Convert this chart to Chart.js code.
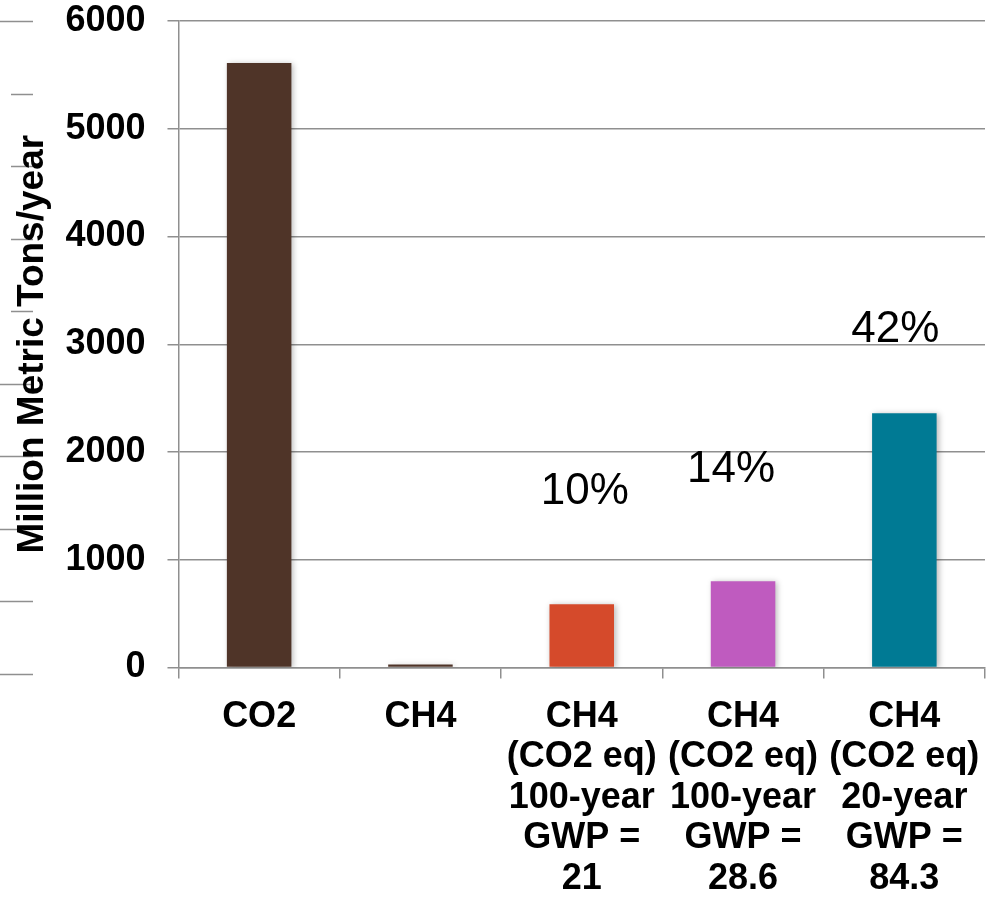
<!DOCTYPE html>
<html>
<head>
<meta charset="utf-8">
<script src="https://cdn.jsdelivr.net/npm/chart.js@4.4.1/dist/chart.umd.min.js"></script>
<style>
  html, body { margin: 0; padding: 0; background: #ffffff; }
  #wrap { width: 990px; height: 899px; position: relative; }
</style>
</head>
<body>
<div id="wrap"><canvas id="chart"></canvas></div>
<script>
// Annual emissions, million metric tons per year
const categories = [
  ['CO2'],
  ['CH4'],
  ['CH4', '(CO2 eq)', '100-year', 'GWP =', '21'],
  ['CH4', '(CO2 eq)', '100-year', 'GWP =', '28.6'],
  ['CH4', '(CO2 eq)', '20-year', 'GWP =', '84.3']
];
const emissions = [5610, 28, 588, 801, 2360];
const barColors = ['#4F3428', '#4F3428', '#D54A2B', '#BF5BBF', '#007A94'];
const yTicks = [0, 1000, 2000, 3000, 4000, 5000, 6000];

// CH4 equivalents expressed as a share of CO2 (first bar)
const shareLabels = emissions.map((v, i) => i < 2 ? '' : Math.round(v / emissions[0] * 100) + '%');

const GRID = '#8f8f8f';
const FONT = '"Liberation Sans", Arial, sans-serif';

// soft drop shadow behind the bars
const barShadow = {
  id: 'barShadow',
  beforeDatasetsDraw(chart) {
    const ctx = chart.ctx;
    ctx.save();
    ctx.shadowColor = 'rgba(0,0,0,0.28)';
    ctx.shadowBlur = 6;
    ctx.shadowOffsetX = 2;
    ctx.shadowOffsetY = 1;
  },
  afterDatasetsDraw(chart) { chart.ctx.restore(); }
};

// percentage labels floating above the equivalent bars
const shareText = {
  id: 'shareText',
  afterDatasetsDraw(chart, args, opts) {
    const ctx = chart.ctx;
    const meta = chart.getDatasetMeta(0);
    ctx.save();
    ctx.font = '44px ' + FONT;
    ctx.fillStyle = '#000';
    ctx.textAlign = 'center';
    ctx.textBaseline = 'middle';
    meta.data.forEach((bar, i) => {
      const t = shareLabels[i];
      if (!t) return;
      const o = opts.offsets[i];
      ctx.fillText(t, bar.x + o[0], bar.y + o[1]);
    });
    ctx.restore();
  }
};

// short rule marks along the far left edge
const edgeRules = {
  id: 'edgeRules',
  beforeDraw(chart, args, opts) {
    const ctx = chart.ctx;
    const { top, bottom } = chart.chartArea;
    const n = opts.starts.length - 1;
    const step = (bottom + 6 - top) / n;
    ctx.save();
    ctx.strokeStyle = GRID;
    ctx.lineWidth = 1.5;
    opts.starts.forEach((sx, i) => {
      const y = Math.round(top + i * step) + 0.5;
      ctx.beginPath();
      ctx.moveTo(sx, y);
      ctx.lineTo(33, y);
      ctx.stroke();
    });
    ctx.restore();
  }
};

new Chart(document.getElementById('chart'), {
  type: 'bar',
  data: {
    labels: categories,
    datasets: [{
      data: emissions,
      backgroundColor: barColors,
      borderWidth: 0,
      barPercentage: 0.8,
      categoryPercentage: 0.5
    }]
  },
  plugins: [edgeRules, barShadow, shareText],
  options: {
    responsive: true,
    maintainAspectRatio: false,
    animation: false,
    layout: { padding: { top: 21, right: 5, bottom: -18, left: 0 } },
    plugins: {
      legend: { display: false },
      tooltip: { enabled: false },
      shareText: { offsets: [null, null, [3, -112], [-12, -111], [-9, -83]] },
      edgeRules: { starts: [0, 11, 11, 11, 11, 0, 0, 0, 0, 0] }
    },
    scales: {
      x: {
        afterFit(scale) { scale.paddingLeft = 0; scale.paddingRight = 0; },
        border: { color: GRID, width: 1.5 },
        grid: { display: true, drawOnChartArea: false, drawTicks: true, tickLength: 11, color: GRID, lineWidth: 1.5, offset: true },
        ticks: {
          color: '#000',
          padding: 18,
          maxRotation: 0,
          autoSkip: false,
          font: { family: FONT, size: 36, weight: 'bold', lineHeight: 1.125 }
        }
      },
      y: {
        min: 0,
        max: 6000,
        afterBuildTicks(scale) { scale.ticks = yTicks.map(v => ({ value: v })); },
        afterFit(scale) { scale.paddingTop = 0; scale.paddingBottom = 0; },
        border: { color: GRID, width: 1.5 },
        grid: { color: GRID, lineWidth: 1.5, tickLength: 11, drawTicks: true },
        ticks: {
          color: '#000',
          padding: 22,
          callback: (v) => String(v),
          font: { family: FONT, size: 36, weight: 'bold', lineHeight: 1.2 }
        },
        title: {
          display: true,
          text: 'Million Metric Tons/year',
          color: '#000',
          padding: { top: 11, bottom: -12 },
          font: { family: FONT, size: 37, weight: 'bold', lineHeight: 1.2 }
        }
      }
    }
  }
});
</script>
</body>
</html>
